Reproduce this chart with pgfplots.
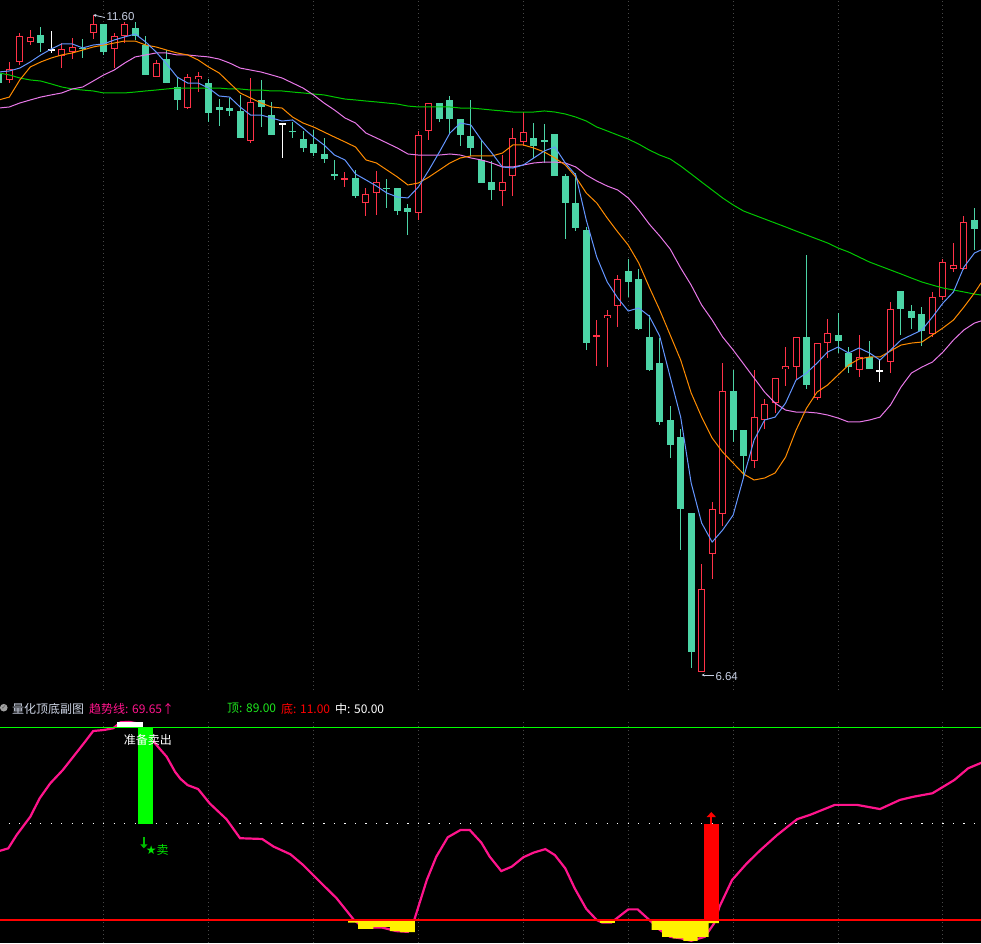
\documentclass[border=0pt]{standalone}
\usepackage{pgfplots}
\pgfplotsset{compat=1.18}
\usepackage{pgfplotstable}
\usepackage{fontspec}
\setmainfont{Liberation Sans}
\newfontfamily\cjk{Noto Sans CJK SC}
\newfontfamily\dejavu{DejaVu Sans}
\usetikzlibrary{arrows.meta}

\definecolor{upred}{RGB}{255,50,72}
\definecolor{dngreen}{RGB}{76,212,166}
\definecolor{mafive}{RGB}{100,150,255}
\definecolor{maten}{RGB}{255,140,0}
\definecolor{matwenty}{RGB}{232,120,232}
\definecolor{masixty}{RGB}{0,200,0}
\definecolor{gridgray}{RGB}{72,72,72}
\definecolor{trendpink}{RGB}{255,20,140}
\definecolor{lblgray}{RGB}{200,208,228}
\definecolor{topgreen}{RGB}{0,255,0}
\definecolor{hdrgreen}{RGB}{30,230,30}
\definecolor{hdrgray}{RGB}{205,212,228}
\definecolor{arrowgreen}{RGB}{0,190,0}
\definecolor{sellgreen}{RGB}{0,230,0}

% candles: i open high low close
\pgfplotstableread{
i o h l c
0 11.109 11.245 11.086 11.192
1 11.245 11.464 11.222 11.441
2 11.396 11.486 11.373 11.434
5 11.290 11.388 11.199 11.343
6 11.320 11.426 11.267 11.358
8 11.464 11.600 11.418 11.532
10 11.343 11.464 11.199 11.441
11 11.441 11.547 11.388 11.532
14 11.131 11.260 11.131 11.237
17 10.897 11.154 10.890 11.131
18 11.116 11.169 11.018 11.139
23 10.648 11.124 10.633 10.943
32 10.354 10.414 10.301 10.369
34 10.180 10.293 10.082 10.248
35 10.255 10.422 10.089 10.338
39 10.104 10.724 10.051 10.693
40 10.724 10.935 10.656 10.935
47 10.270 10.542 10.157 10.338
48 10.384 10.746 10.233 10.671
49 10.641 10.867 10.610 10.716
56 9.168 9.296 8.949 9.183
57 9.311 9.372 8.941 9.334
58 9.402 9.636 9.243 9.606
66 6.640 7.453 6.640 7.264
67 7.529 7.921 7.340 7.869
68 7.831 8.971 7.740 8.760
71 8.231 8.918 8.178 8.563
72 8.541 8.699 8.473 8.662
73 8.669 8.858 8.594 8.858
74 8.926 9.092 8.798 8.949
75 8.941 9.168 8.843 9.168
77 8.707 9.122 8.692 9.122
78 9.122 9.304 9.009 9.198
81 8.918 9.183 8.866 9.017
84 8.979 9.432 8.896 9.379
88 9.190 9.508 9.168 9.470
89 9.470 9.757 9.447 9.734
90 9.681 9.878 9.659 9.712
91 9.681 10.082 9.674 10.036
}\up

\pgfplotstableread{
i o h l c
-1 11.162 11.184 11.071 11.086
3 11.449 11.509 11.320 11.388
7 11.351 11.418 11.275 11.343
9 11.532 11.532 11.298 11.320
12 11.502 11.547 11.411 11.441
13 11.373 11.441 11.147 11.147
15 11.267 11.335 11.086 11.086
16 11.056 11.131 10.882 10.958
19 11.086 11.116 10.792 10.860
20 10.905 10.965 10.761 10.882
21 10.897 10.973 10.837 10.875
22 10.875 10.996 10.671 10.671
24 10.958 11.109 10.754 10.905
25 10.844 10.943 10.693 10.693
27 10.724 10.792 10.671 10.716
28 10.663 10.724 10.565 10.595
29 10.625 10.731 10.535 10.557
30 10.550 10.671 10.482 10.512
31 10.399 10.505 10.354 10.384
33 10.369 10.429 10.218 10.233
36 10.293 10.361 10.142 10.286
37 10.293 10.293 10.089 10.119
38 10.142 10.172 9.938 10.112
41 10.935 10.935 10.792 10.814
42 10.958 10.988 10.701 10.814
43 10.814 10.814 10.610 10.693
44 10.686 10.958 10.535 10.595
45 10.505 10.656 10.331 10.331
46 10.338 10.497 10.202 10.278
50 10.671 10.784 10.520 10.610
51 10.656 10.776 10.482 10.641
52 10.701 10.701 10.384 10.384
53 10.384 10.399 9.908 10.180
54 10.180 10.406 9.968 9.991
55 9.976 9.999 9.069 9.122
59 9.666 9.757 9.470 9.583
60 9.606 9.681 9.221 9.228
61 9.168 9.334 8.911 8.918
62 8.971 9.160 8.503 8.526
63 8.541 8.647 8.254 8.352
64 8.412 8.473 7.559 7.869
65 7.838 7.838 6.668 6.789
69 8.760 8.918 8.375 8.465
70 8.465 8.465 8.110 8.269
76 9.168 9.787 8.775 8.805
79 9.183 9.349 9.047 9.137
80 9.047 9.092 8.896 8.941
82 9.017 9.137 8.926 8.926
85 9.515 9.515 9.183 9.379
86 9.364 9.409 9.228 9.311
87 9.341 9.394 9.100 9.213
92 10.051 10.142 9.825 9.983
}\down

\pgfplotstableread{
i o h l c
4 11.343 11.479 11.313 11.335
26 10.784 10.784 10.520 10.776
83 8.918 9.002 8.828 8.911
}\cross

\pgfplotstableread{
i ma5 ma10 ma20 ma60
-1 11.169 10.958 10.897 11.162
0 11.177 10.980 10.905 11.147
1 11.199 11.109 10.935 11.124
2 11.245 11.207 10.958 11.109
3 11.298 11.245 10.980 11.101
4 11.343 11.275 10.996 11.079
5 11.381 11.298 11.011 11.056
6 11.381 11.313 11.041 11.041
7 11.351 11.335 11.056 11.033
8 11.373 11.358 11.101 11.026
9 11.381 11.373 11.147 11.011
10 11.411 11.388 11.184 11.011
11 11.434 11.403 11.237 11.011
12 11.456 11.403 11.283 11.018
13 11.396 11.373 11.298 11.026
14 11.320 11.358 11.313 11.033
15 11.230 11.335 11.313 11.041
16 11.131 11.313 11.298 11.048
17 11.086 11.298 11.298 11.048
18 11.086 11.260 11.290 11.048
19 11.048 11.207 11.283 11.048
20 10.988 11.162 11.267 11.048
21 10.980 11.086 11.237 11.041
22 10.905 11.011 11.199 11.041
23 10.844 10.973 11.184 11.033
24 10.844 10.935 11.169 11.033
25 10.822 10.905 11.147 11.026
26 10.799 10.897 11.124 11.026
27 10.807 10.829 11.086 11.018
28 10.746 10.784 11.048 11.011
29 10.678 10.754 10.996 11.003
30 10.618 10.716 10.935 10.996
31 10.542 10.678 10.882 10.980
32 10.505 10.641 10.822 10.965
33 10.399 10.603 10.784 10.958
34 10.354 10.505 10.708 10.950
35 10.308 10.482 10.671 10.943
36 10.255 10.429 10.633 10.935
37 10.225 10.376 10.595 10.927
38 10.218 10.316 10.550 10.912
39 10.301 10.331 10.542 10.905
40 10.429 10.376 10.542 10.905
41 10.565 10.429 10.542 10.905
42 10.708 10.482 10.550 10.905
43 10.784 10.520 10.542 10.897
44 10.769 10.535 10.520 10.897
45 10.656 10.535 10.505 10.890
46 10.557 10.535 10.482 10.882
47 10.452 10.557 10.452 10.875
48 10.444 10.618 10.452 10.867
49 10.467 10.618 10.467 10.867
50 10.520 10.595 10.482 10.867
51 10.573 10.565 10.489 10.875
52 10.603 10.520 10.489 10.867
53 10.482 10.467 10.482 10.852
54 10.391 10.376 10.452 10.829
55 10.051 10.255 10.391 10.799
56 9.772 10.180 10.346 10.754
57 9.583 10.066 10.308 10.724
58 9.462 9.961 10.278 10.693
59 9.364 9.862 10.218 10.663
60 9.387 9.727 10.127 10.625
61 9.326 9.545 10.021 10.580
62 9.175 9.372 9.931 10.542
63 8.866 9.183 9.832 10.512
64 8.563 8.994 9.689 10.459
65 8.065 8.745 9.560 10.399
66 7.763 8.563 9.409 10.338
67 7.619 8.405 9.296 10.278
68 7.710 8.299 9.168 10.218
69 7.823 8.216 9.070 10.165
70 8.110 8.133 8.964 10.119
71 8.390 8.088 8.858 10.089
72 8.541 8.103 8.752 10.059
73 8.563 8.141 8.669 10.029
74 8.669 8.261 8.616 9.999
75 8.843 8.465 8.601 9.968
76 8.896 8.631 8.601 9.938
77 8.971 8.752 8.594 9.908
78 9.054 8.805 8.579 9.878
79 9.092 8.881 8.556 9.840
80 9.047 8.956 8.526 9.810
81 9.085 9.002 8.526 9.772
82 9.047 9.017 8.541 9.734
83 8.994 9.017 8.563 9.704
84 9.069 9.062 8.654 9.674
85 9.145 9.107 8.790 9.644
86 9.183 9.122 8.896 9.613
87 9.221 9.130 8.941 9.583
88 9.319 9.183 8.979 9.560
89 9.424 9.236 9.054 9.538
90 9.508 9.296 9.145 9.523
91 9.696 9.394 9.221 9.508
92 9.802 9.500 9.273 9.492
92.63 9.825 9.576 9.289 9.485
}\ma

\pgfplotstableread{
x v
-0.9 39.0
-0.1 40.0
0.7 45.4
2.0 52.8
2.9 60.3
3.9 66.3
5.1 71.7
6.1 77.1
7.1 82.5
8.0 87.5
9.0 87.9
9.9 88.6
10.6 91.0
11.4 91.2
12.3 90.5
13.0 87.0
13.7 83.5
14.3 80.5
15.0 77.1
15.8 71.0
16.3 68.2
17.0 65.6
18.0 64.0
19.1 58.2
20.7 51.8
22.0 44.1
24.1 43.8
25.2 40.7
26.8 37.6
28.0 33.3
29.6 26.5
31.2 19.8
32.8 11.3
33.7 8.0
35.5 8.0
36.9 6.5
38.0 6.2
38.6 11.0
39.8 27.2
40.7 36.6
41.8 44.5
43.0 47.4
43.9 47.4
45.0 42.3
45.8 36.6
46.9 30.8
47.9 32.6
49.0 36.4
50.0 38.3
51.1 39.7
52.0 37.3
53.0 31.9
53.9 23.8
55.0 15.5
56.0 11.0
56.5 10.0
57.4 10.0
57.7 11.0
59.0 15.3
59.9 15.3
61.2 10.3
62.0 7.0
63.0 4.2
64.0 3.6
65.0 2.6
66.3 4.2
67.2 9.7
67.7 16.4
68.9 27.2
70.3 33.9
71.6 39.3
73.2 45.4
75.1 51.8
76.3 53.5
78.7 57.6
80.8 57.6
83.0 55.9
84.9 59.6
86.2 60.9
88.0 62.3
90.1 67.7
91.4 72.4
92.7 74.7
}\trend

\pgfplotsset{
  ebar/.style 2 args={draw=none, mark=none, forget plot,
    error bars/.cd, y dir=both, y explicit, error mark=none,
    error bar style={draw=#1, line width=#2, line cap=butt}},
}

\begin{document}
\begin{tikzpicture}
\fill[black] (0pt,0pt) rectangle (981pt,943pt);

% ---------- price panel ----------
\begin{axis}[at={(0pt,253pt)}, anchor=south west, scale only axis,
  width=981pt, height=690pt, xmin=-0.887, xmax=92.63,
  ymin=6.502, ymax=11.713, hide axis, clip=true]
\pgfplotsinvokeforeach{9,19,...,89}{
  \addplot[gridgray, line width=1pt, dash pattern=on 1pt off 3pt] coordinates {(#1,6.502) (#1,11.713)};
}
% wicks
\addplot[ebar={upred}{1pt}] table[x=i, y expr={(\thisrow{h}+\thisrow{l})/2}, y error expr={(\thisrow{h}-\thisrow{l})/2}] {\up};
\addplot[ebar={dngreen}{1pt}] table[x=i, y expr={(\thisrow{h}+\thisrow{l})/2}, y error expr={(\thisrow{h}-\thisrow{l})/2}] {\down};
\addplot[ebar={white}{1pt}] table[x=i, y expr={(\thisrow{h}+\thisrow{l})/2}, y error expr={(\thisrow{h}-\thisrow{l})/2}] {\cross};
% bodies
\addplot[ebar={dngreen}{7pt}] table[x=i, y expr={(\thisrow{o}+\thisrow{c})/2}, y error expr={(\thisrow{o}-\thisrow{c})/2}] {\down};
\addplot[ebar={white}{7pt}] table[x=i, y expr={(\thisrow{o}+\thisrow{c})/2}, y error expr={abs(\thisrow{o}-\thisrow{c})/2}] {\cross};
\addplot[ebar={upred}{7pt}] table[x=i, y expr={(\thisrow{o}+\thisrow{c})/2}, y error expr={(\thisrow{c}-\thisrow{o})/2}] {\up};
\addplot[ebar={black}{5pt}] table[x=i, y expr={(\thisrow{o}+\thisrow{c})/2}, y error expr={max((\thisrow{c}-\thisrow{o})/2-0.0076,0)}] {\up};
% moving averages
\addplot[masixty, line width=1pt] table[x=i, y=ma60] {\ma};
\addplot[matwenty, line width=1pt] table[x=i, y=ma20] {\ma};
\addplot[maten, line width=1pt] table[x=i, y=ma10] {\ma};
\addplot[mafive, line width=1pt] table[x=i, y=ma5] {\ma};
% high / low labels
\addplot[lblgray, line width=0.8pt, {Stealth[length=3pt,width=3pt]}-] coordinates {(8.0,11.600) (9.1,11.581)};
\node[anchor=west, inner sep=0, text=lblgray, font=\fontsize{11.5}{12}\selectfont] at (axis cs:9.25,11.587) {11.60};
\addplot[lblgray, line width=0.8pt, {Stealth[length=3pt,width=3pt]}-] coordinates {(66.0,6.615) (67.2,6.615)};
\node[anchor=west, inner sep=0, text=lblgray, font=\fontsize{11.5}{12}\selectfont] at (axis cs:67.3,6.602) {6.64};
\end{axis}

% ---------- header ----------
\fill[gray!75] (3.8pt,235.3pt) circle (3.8pt);
\node[text=black!70, font=\dejavu\fontsize{6}{6}\selectfont, inner sep=0] at (3.8pt,235.3pt) {✓};
\node[anchor=west, inner sep=0, text=hdrgray, font=\cjk\fontsize{12}{12}\selectfont] at (12pt,234.5pt) {量化顶底副图};
\node[anchor=west, inner sep=0, text=trendpink, font=\cjk\fontsize{12}{12}\selectfont] at (89pt,234.5pt) {趋势线: 69.65↑};
\node[anchor=west, inner sep=0, text=hdrgreen, font=\cjk\fontsize{12}{12}\selectfont] at (227pt,234.5pt) {顶: 89.00};
\node[anchor=west, inner sep=0, text=red, font=\cjk\fontsize{12}{12}\selectfont] at (281pt,234.5pt) {底: 11.00};
\node[anchor=west, inner sep=0, text=white, font=\cjk\fontsize{12}{12}\selectfont] at (335pt,234.5pt) {中: 50.00};

% ---------- indicator panel ----------
\begin{axis}[at={(0pt,0pt)}, anchor=south west, scale only axis,
  width=981pt, height=223pt, xmin=-0.887, xmax=92.63,
  ymin=1.69, ymax=91.95, hide axis, clip=true]
\pgfplotsinvokeforeach{9,19,...,89}{
  \addplot[gridgray, line width=1pt, dash pattern=on 1pt off 3pt] coordinates {(#1,1.69) (#1,91.95)};
}
\addplot[white, line width=1.2pt, dash pattern=on 1.2pt off 9.29pt, dash phase=1.79pt] coordinates {(-0.887,50) (92.63,50)};
\addplot[trendpink, line width=2.2pt] table[x=x, y=v] {\trend};
% bars
\addplot[fill=white, draw=none] coordinates {(10.27,89) (12.75,89) (12.75,91.3) (10.27,91.3)};
\addplot[fill=topgreen, draw=none] coordinates {(12.27,50) (13.67,50) (13.67,89) (12.27,89)};
\addplot[fill=yellow, draw=none] coordinates {(32.29,11) (32.29,9.9) (33.24,9.9) (33.24,7.4) (34.70,7.4) (34.70,8.2) (36.29,8.2) (36.29,6.5) (37.24,6.5) (37.24,6.1) (38.65,6.1) (38.65,11)};
\addplot[fill=yellow, draw=none] coordinates {(56.31,11) (56.31,9.7) (57.74,9.7) (57.74,11)};
\addplot[fill=yellow, draw=none] coordinates {(61.24,11) (61.24,6.96) (62.22,6.96) (62.22,4.2) (63.24,4.2) (63.24,3.6) (64.25,3.6) (64.25,2.6) (65.62,2.6) (65.62,4.2) (66.67,4.2) (66.67,9.7) (67.65,9.7) (67.65,11)};
\addplot[fill=red, draw=none] coordinates {(66.2,11) (67.65,11) (67.65,50) (66.2,50)};
\addplot[red, line width=2pt, -{Triangle[length=5pt,width=9pt]}] coordinates {(66.92,50) (66.92,54.7)};
% level lines
\addplot[topgreen, line width=1.3pt] coordinates {(-0.887,89) (92.63,89)};
\addplot[red, line width=1.2pt] coordinates {(-0.887,11) (92.63,11)};
% labels
\node[text=white, inner sep=0, font=\cjk\fontsize{12}{12}\selectfont] at (axis cs:13.22,83.86) {准备卖出};
\addplot[arrowgreen, line width=1.6pt, -{Triangle[length=4pt,width=7pt]}] coordinates {(12.83,44.6) (12.83,40.0)};
\node[anchor=west, text=sellgreen, inner sep=0, font=\fontsize{12}{12}\selectfont] at (axis cs:13.0,39.5) {{\dejavu ★}{\cjk 卖}};
\end{axis}

\pgfresetboundingbox
\path[use as bounding box] (0pt,0pt) rectangle (981pt,943pt);
\end{tikzpicture}
\end{document}
